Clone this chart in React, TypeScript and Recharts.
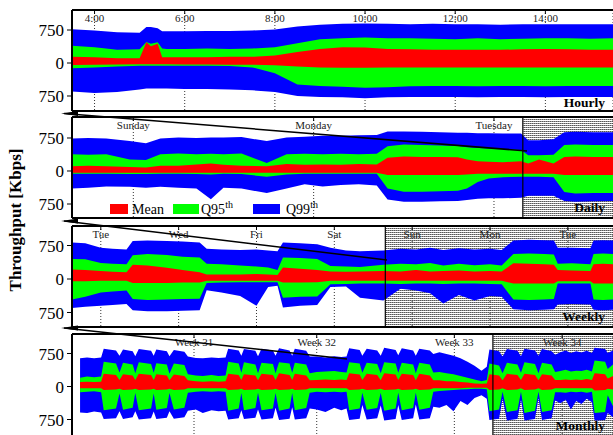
import React from 'react';
import { AreaChart, Area, XAxis, YAxis, CartesianGrid, ReferenceArea, ReferenceLine } from 'recharts';

const FONT = '"Liberation Serif", "Times New Roman", Times, serif';
const BLUE = '#0000ff';
const GREEN = '#00ff00';
const RED = '#ff0000';

// ---------- Hourly panel (x = hour of day) ----------
const hourX = [3.5, 4.0, 4.5, 5.0, 5.15, 5.25, 5.4, 5.5, 5.6, 6.0, 6.5, 7.0, 7.5, 8.0, 8.5, 9.0, 9.5, 10.0, 10.5, 11.0, 11.5, 12.0, 12.5, 13.0, 13.5, 14.0, 14.5, 15.0, 15.5];
const hourQ99Hi = [770, 740, 700, 690, 820, 820, 790, 720, 720, 720, 730, 730, 740, 760, 830, 870, 890, 900, 890, 880, 890, 880, 880, 870, 880, 880, 880, 880, 880];
const hourQ95Hi = [390, 360, 300, 310, 480, 440, 470, 330, 320, 320, 330, 320, 330, 360, 450, 540, 560, 580, 560, 560, 550, 540, 560, 540, 550, 560, 560, 550, 560];
const hourMeanHi = [140, 130, 110, 110, 470, 380, 440, 130, 130, 130, 130, 140, 140, 170, 250, 320, 360, 350, 320, 310, 300, 300, 300, 300, 310, 320, 310, 300, 300];
const hourMeanLo = [-45, -40, -35, -30, -30, -30, -30, -30, -30, -35, -35, -40, -40, -50, -80, -100, -110, -110, -100, -100, -100, -100, -100, -100, -100, -100, -100, -100, -100];
const hourQ95Lo = [-120, -100, -80, -60, -60, -60, -60, -60, -60, -60, -60, -70, -100, -230, -490, -520, -540, -560, -550, -530, -520, -520, -530, -520, -520, -530, -520, -520, -520];
const hourQ99Lo = [-650, -680, -660, -600, -580, -580, -580, -580, -580, -590, -590, -600, -620, -660, -750, -770, -780, -800, -780, -770, -770, -770, -780, -770, -770, -780, -770, -770, -770];
const hourTicks = [4, 6, 8, 10, 12, 14];
const hourTickLabels = ['4:00', '6:00', '8:00', '10:00', '12:00', '14:00'];

// ---------- Daily panel (x = day, Sunday = 1) ----------
const dayX = [0.66, 0.75, 0.85, 0.98, 1.07, 1.15, 1.25, 1.35, 1.43, 1.5, 1.6, 1.74, 1.85, 1.95, 2.05, 2.15, 2.25, 2.35, 2.41, 2.5, 2.6, 2.7, 2.8, 2.85, 2.91, 2.97, 3.05, 3.15, 3.19, 3.25, 3.33, 3.39, 3.45, 3.55, 3.66];
const dayQ99Hi = [740, 750, 740, 680, 630, 740, 760, 750, 760, 760, 770, 680, 760, 780, 800, 800, 810, 820, 900, 900, 890, 880, 870, 870, 860, 860, 850, 850, 700, 700, 720, 880, 890, 880, 880];
const dayQ95Hi = [380, 370, 380, 260, 250, 380, 400, 380, 390, 380, 400, 180, 380, 390, 380, 390, 380, 390, 560, 600, 590, 580, 570, 540, 520, 510, 500, 480, 360, 360, 370, 590, 600, 590, 590];
const dayMeanHi = [110, 120, 110, 90, 80, 120, 120, 150, 170, 140, 120, 110, 160, 140, 150, 140, 160, 150, 300, 330, 320, 320, 310, 260, 220, 210, 200, 220, 170, 260, 170, 320, 330, 320, 320];
const dayMeanLo = [-40, -40, -40, -40, -40, -40, -40, -40, -40, -40, -40, -40, -40, -40, -40, -40, -40, -40, -90, -90, -90, -90, -90, -80, -60, -60, -60, -60, -60, -60, -60, -90, -90, -90, -90];
const dayQ95Lo = [-60, -60, -60, -70, -70, -60, -60, -70, -80, -60, -70, -130, -80, -60, -60, -60, -60, -60, -400, -470, -470, -460, -450, -400, -250, -170, -140, -130, -130, -130, -140, -480, -510, -500, -500];
const dayQ99Lo = [-400, -380, -350, -360, -380, -360, -380, -400, -640, -380, -400, -500, -400, -300, -350, -320, -300, -330, -650, -700, -700, -690, -680, -660, -630, -620, -620, -610, -560, -560, -560, -680, -700, -690, -680];
const dayTicks = [1, 2, 3];
const dayTickLabels = ['Sunday', 'Monday', 'Tuesday'];

// ---------- Weekly panel (x = day index) ----------
const weekX = [-0.37, -0.2, 0.0, 0.15, 0.33, 0.41, 0.6, 0.85, 1.05, 1.27, 1.36, 1.55, 1.79, 2.0, 2.15, 2.27, 2.34, 2.56, 2.78, 2.95, 3.15, 3.33, 3.63, 3.85, 4.05, 4.23, 4.4, 4.6, 4.8, 5.0, 5.15, 5.3, 5.5, 5.7, 5.82, 5.87, 6.05, 6.29, 6.33, 6.45, 6.58];
const weekQ99Hi = [820, 800, 700, 680, 660, 850, 860, 850, 840, 820, 680, 660, 650, 660, 640, 620, 820, 800, 780, 700, 640, 620, 640, 680, 660, 700, 650, 690, 660, 680, 650, 860, 880, 870, 860, 700, 700, 690, 860, 870, 860];
const weekQ95Hi = [450, 440, 360, 340, 330, 530, 560, 540, 500, 480, 340, 330, 300, 280, 260, 200, 480, 470, 450, 290, 280, 270, 320, 340, 330, 360, 300, 340, 310, 330, 300, 560, 570, 560, 550, 340, 350, 330, 560, 570, 560];
const weekMeanHi = [210, 200, 180, 160, 150, 320, 300, 250, 200, 150, 100, 100, 100, 110, 100, 90, 260, 230, 200, 170, 160, 170, 180, 170, 200, 170, 180, 190, 170, 180, 170, 350, 340, 330, 320, 200, 190, 180, 330, 340, 330];
const weekMeanLo = [-50, -50, -40, -40, -40, -90, -90, -90, -80, -80, -40, -40, -40, -40, -40, -40, -80, -80, -70, -40, -40, -40, -40, -40, -40, -40, -40, -40, -40, -40, -40, -100, -100, -100, -100, -50, -50, -50, -100, -100, -100];
const weekQ95Lo = [-460, -400, -300, -280, -260, -450, -470, -460, -450, -440, -90, -80, -70, -70, -70, -70, -420, -400, -390, -120, -110, -100, -100, -110, -100, -100, -110, -100, -100, -110, -120, -460, -470, -460, -450, -100, -100, -100, -460, -470, -460];
const weekQ99Lo = [-650, -620, -600, -580, -560, -700, -720, -720, -710, -700, -250, -300, -380, -600, -180, -150, -640, -600, -580, -180, -170, -420, -480, -220, -260, -320, -550, -360, -480, -380, -400, -680, -700, -690, -680, -570, -560, -570, -690, -700, -690];
const weekTicks = [0, 1, 2, 3, 4, 5, 6];
const weekTickLabels = ['Tue', 'Wed', 'Fri', 'Sat', 'Sun', 'Mon', 'Tue'];

// ---------- Monthly panel (x = day index) ----------
const monthX = [
  0, 0.4, 0.8, 1.2, 1.35, 2.05, 2.25, 2.45, 3.0, 3.15,
  3.35, 4.05, 4.2, 4.35, 4.95, 5.1, 5.35, 5.95, 6.15, 6.6,
  7.0, 7.5, 7.9, 8.3, 8.45, 9.05, 9.2, 9.35, 10.0, 10.15,
  10.35, 11.0, 11.15, 11.35, 11.95, 12.1, 12.25, 12.9, 13.1, 13.5,
  14.0, 14.5, 14.9, 15.2, 15.35, 15.95, 16.1, 16.35, 16.95, 17.15,
  17.35, 18.0, 18.15, 18.35, 19.0, 19.15, 19.35, 19.95, 20.15, 20.5,
  20.9, 21.3, 21.7, 22.1, 22.5, 22.9, 23.2, 23.35, 23.9, 24.1,
  24.35, 24.95, 25.15, 25.35, 25.95, 26.15, 26.35, 26.9, 27.1, 27.4,
  27.7, 28.0, 28.3, 28.6, 28.9, 29.2, 29.35, 29.95, 30.1, 30.4,
];
const monthQ99Hi = [
  640, 660, 640, 660, 860, 820, 700, 840, 800, 690,
  850, 810, 700, 840, 800, 690, 830, 790, 680, 650,
  640, 660, 650, 660, 860, 820, 700, 850, 810, 690,
  860, 820, 700, 870, 820, 700, 860, 810, 680, 680,
  660, 690, 670, 680, 870, 830, 700, 860, 820, 700,
  880, 830, 710, 870, 820, 700, 860, 820, 740, 780,
  740, 700, 640, 560, 470, 360, 450, 840, 800, 680,
  850, 810, 690, 860, 820, 700, 850, 800, 720, 780,
  820, 760, 800, 770, 810, 760, 880, 850, 760, 820,
];
const monthQ95Hi = [
  200, 230, 210, 230, 560, 520, 320, 540, 500, 300,
  550, 510, 310, 530, 500, 290, 520, 490, 280, 250,
  240, 260, 240, 250, 560, 520, 310, 550, 500, 300,
  540, 510, 300, 550, 520, 310, 540, 500, 300, 330,
  340, 350, 330, 320, 550, 520, 310, 540, 510, 300,
  550, 520, 310, 540, 500, 300, 540, 500, 320, 330,
  300, 280, 240, 200, 160, 120, 150, 520, 480, 300,
  540, 500, 310, 550, 510, 300, 540, 500, 330, 350,
  380, 340, 360, 350, 380, 340, 590, 560, 400, 500,
];
const monthMeanHi = [
  100, 110, 100, 110, 290, 260, 150, 280, 250, 150,
  290, 260, 150, 280, 250, 140, 270, 240, 140, 120,
  110, 120, 110, 120, 290, 260, 150, 280, 250, 140,
  290, 260, 150, 300, 260, 150, 290, 250, 140, 150,
  160, 150, 160, 150, 300, 270, 150, 290, 260, 140,
  300, 270, 150, 290, 260, 140, 290, 250, 140, 140,
  120, 120, 100, 90, 70, 60, 70, 280, 250, 140,
  290, 260, 150, 290, 260, 140, 280, 250, 150, 150,
  160, 150, 160, 150, 170, 150, 300, 280, 180, 240,
];
const monthMeanLo = [
  -40, -40, -40, -40, -80, -70, -50, -80, -70, -50,
  -80, -70, -50, -80, -70, -50, -80, -70, -40, -40,
  -40, -40, -40, -40, -80, -70, -50, -80, -70, -50,
  -80, -70, -50, -80, -70, -50, -80, -70, -40, -40,
  -40, -40, -40, -40, -80, -70, -50, -80, -70, -50,
  -80, -70, -50, -80, -70, -50, -80, -70, -40, -40,
  -40, -40, -40, -30, -30, -30, -30, -80, -70, -40,
  -80, -70, -40, -80, -70, -40, -80, -70, -40, -40,
  -40, -40, -40, -40, -40, -40, -90, -80, -50, -70,
];
const monthQ95Lo = [
  -130, -120, -110, -130, -540, -500, -160, -530, -480, -150,
  -540, -500, -160, -530, -490, -150, -520, -480, -140, -120,
  -110, -120, -110, -120, -550, -500, -150, -540, -490, -140,
  -540, -500, -150, -550, -500, -150, -540, -490, -140, -120,
  -130, -120, -130, -120, -540, -500, -140, -530, -490, -140,
  -550, -500, -140, -540, -490, -140, -530, -480, -120, -100,
  -90, -80, -70, -60, -50, -50, -60, -560, -520, -120,
  -580, -540, -120, -600, -550, -120, -580, -540, -130, -130,
  -140, -120, -130, -120, -140, -120, -600, -580, -200, -450,
];
const monthQ99Lo = [
  -590, -600, -570, -590, -740, -720, -560, -740, -700, -560,
  -750, -720, -570, -740, -710, -560, -730, -700, -550, -520,
  -600, -540, -560, -550, -750, -720, -540, -740, -710, -520,
  -750, -720, -480, -760, -730, -470, -750, -720, -500, -520,
  -580, -480, -540, -500, -760, -730, -420, -750, -720, -430,
  -770, -740, -420, -760, -720, -410, -750, -720, -460, -480,
  -420, -560, -330, -420, -260, -200, -280, -760, -730, -280,
  -770, -740, -300, -770, -740, -260, -760, -720, -320, -380,
  -300, -520, -330, -400, -280, -360, -770, -760, -600, -700,
];
const monthTicks = [6.5, 13.5, 21.35, 27.5];
const monthTickLabels = ['Week 31', 'Week 32', 'Week 33', 'Week 34'];

const yTicks = [-750, 0, 750];
const legendLabels = ['Mean', 'Q95', 'Q99'];
const panelTitles = ['Hourly', 'Daily', 'Weekly', 'Monthly'];
const yLabel = 'Throughput [Kbps]';

function buildRows(xs: number[], q99hi: number[], q95hi: number[], mhi: number[], mlo: number[], q95lo: number[], q99lo: number[]) {
  return xs.map((x, i) => ({
    x,
    q99: [q99lo[i], q99hi[i]],
    q95: [q95lo[i], q95hi[i]],
    mean: [mlo[i], mhi[i]],
  }));
}

type PanelProps = {
  top: number;
  bottom: number;
  yMin: number;
  yMax: number;
  xDomain: [number, number];
  ticks: number[];
  tickLabels: string[];
  rows: any[];
  shadeFrom?: number;
};

function Panel({ top, bottom, yMin, yMax, xDomain, ticks, tickLabels, rows, shadeFrom }: PanelProps) {
  const h = bottom - top + 4;
  const renderTick = (p: any) => {
    const v = p.payload ? p.payload.value : null;
    let idx = -1;
    ticks.forEach((t, i) => {
      if (v != null && Math.abs(t - v) < 1e-6) idx = i;
    });
    const label = idx >= 0 ? tickLabels[idx] : '';
    return (
      <g>
        <line x1={p.x} x2={p.x} y1={2} y2={6} stroke="#000" strokeWidth={1} />
        <text x={p.x} y={14} textAnchor="middle" fontFamily={FONT} fontSize={11} fill="#222">
          {label}
        </text>
      </g>
    );
  };
  return (
    <>
      {shadeFrom != null && (
        <div style={{ position: 'absolute', left: 0, top: top - 2, width: 613, height: h }}>
          <AreaChart width={613} height={h} data={rows} margin={{ top: 2, right: 0, bottom: 2, left: 72 }}>
            <XAxis dataKey="x" type="number" domain={xDomain} allowDataOverflow hide />
            <YAxis type="number" domain={[yMin, yMax]} allowDataOverflow hide />
            <ReferenceArea x1={shadeFrom} x2={xDomain[1]} y1={yMin} y2={yMax} fill="url(#shade)" fillOpacity={1} stroke="none" />
          </AreaChart>
        </div>
      )}
      <div style={{ position: 'absolute', left: 0, top: top - 2, width: 613, height: h }}>
        <AreaChart width={613} height={h} data={rows} margin={{ top: 1, right: 0, bottom: 2, left: 0 }}>
          <CartesianGrid horizontal={false} vertical stroke="#333" strokeDasharray="1 2" />
          <XAxis
            dataKey="x"
            type="number"
            domain={xDomain}
            ticks={ticks}
            interval={0}
            orientation="top"
            height={1}
            allowDataOverflow
            axisLine={{ stroke: '#000', strokeWidth: 2 }}
            tickLine={false}
            tick={renderTick}
          />
          <YAxis
            type="number"
            domain={[yMin, yMax]}
            ticks={yTicks}
            interval={0}
            width={72}
            allowDataOverflow
            tickFormatter={(v: number) => String(Math.abs(v))}
            axisLine={{ stroke: '#000', strokeWidth: 2 }}
            tickLine={{ stroke: '#000' }}
            tickSize={5}
            tickMargin={3}
            tick={{ fill: '#000', fontSize: 17, fontFamily: FONT }}
          />
          <Area type="linear" dataKey="q99" stroke="none" fill={BLUE} fillOpacity={1} isAnimationActive={false} dot={false} activeDot={false} />
          <Area type="linear" dataKey="q95" stroke="none" fill={GREEN} fillOpacity={1} isAnimationActive={false} dot={false} activeDot={false} />
          <Area type="linear" dataKey="mean" stroke="none" fill={RED} fillOpacity={1} isAnimationActive={false} dot={false} activeDot={false} />
          {shadeFrom != null && <ReferenceLine x={shadeFrom} stroke="#000" strokeWidth={1.2} />}
          <ReferenceLine y={yMin} stroke="#000" strokeWidth={2} />
        </AreaChart>
      </div>
    </>
  );
}

export default function App() {
  const hourRows = buildRows(hourX, hourQ99Hi, hourQ95Hi, hourMeanHi, hourMeanLo, hourQ95Lo, hourQ99Lo);
  const dayRows = buildRows(dayX, dayQ99Hi, dayQ95Hi, dayMeanHi, dayMeanLo, dayQ95Lo, dayQ99Lo);
  const weekRows = buildRows(weekX, weekQ99Hi, weekQ95Hi, weekMeanHi, weekMeanLo, weekQ95Lo, weekQ99Lo);
  const monthRows = buildRows(monthX, monthQ99Hi, monthQ95Hi, monthMeanHi, monthMeanLo, monthQ95Lo, monthQ99Lo);

  return (
    <div style={{ position: 'fixed', left: 0, top: 0, width: 613, height: 435, background: '#fff', overflow: 'hidden' }}>
      <svg width={0} height={0} style={{ position: 'absolute' }}>
        <defs>
          <pattern id="shade" width={2} height={2} patternUnits="userSpaceOnUse">
            <rect x={0} y={0} width={2} height={2} fill="#ffffff" />
            <rect x={0} y={0} width={1} height={1} fill="#555555" />
            <rect x={1} y={0} width={1} height={1} fill="#9a9a9a" />
          </pattern>
        </defs>
      </svg>

      <Panel top={10} bottom={111} yMin={-1091} yMax={1205} xDomain={[3.5, 15.5]} ticks={hourTicks} tickLabels={hourTickLabels} rows={hourRows} />
      <Panel top={117} bottom={218} yMin={-1068} yMax={1227} xDomain={[0.66, 3.66]} ticks={dayTicks} tickLabels={dayTickLabels} rows={dayRows} shadeFrom={3.16} />
      <Panel top={226} bottom={327} yMin={-1075} yMax={1187} xDomain={[-0.37, 6.58]} ticks={weekTicks} tickLabels={weekTickLabels} rows={weekRows} shadeFrom={3.655} />
      <Panel top={334} bottom={438} yMin={-1170} yMax={1193} xDomain={[-0.46, 30.4]} ticks={monthTicks} tickLabels={monthTickLabels} rows={monthRows} shadeFrom={23.55} />

      <svg width={613} height={435} style={{ position: 'absolute', left: 0, top: 0, pointerEvents: 'none' }}>
        <line x1={64} y1={113.5} x2={527} y2={151} stroke="#000" strokeWidth={1.5} />
        <polygon points="61,113.5 78,111 78,116" fill="#000" />
        <line x1={64} y1={221} x2={387} y2={260} stroke="#000" strokeWidth={1.5} />
        <polygon points="61,221 78,218.5 78,223.5" fill="#000" />
        <line x1={64} y1={328} x2={347} y2={359} stroke="#000" strokeWidth={1.5} />
        <polygon points="61,328 78,325.5 78,330.5" fill="#000" />

        <text x={605} y={107} textAnchor="end" fontFamily={FONT} fontWeight="bold" fontSize={13.5} fill="#000">{panelTitles[0]}</text>
        <text x={605} y={212} textAnchor="end" fontFamily={FONT} fontWeight="bold" fontSize={13.5} fill="#000">{panelTitles[1]}</text>
        <text x={605} y={321} textAnchor="end" fontFamily={FONT} fontWeight="bold" fontSize={13.5} fill="#000">{panelTitles[2]}</text>
        <text x={605} y={430} textAnchor="end" fontFamily={FONT} fontWeight="bold" fontSize={13.5} fill="#000">{panelTitles[3]}</text>

        <rect x={110} y={204} width={18} height={10} fill={RED} />
        <text x={132} y={213.5} fontFamily={FONT} fontSize={14} fill="#000">{legendLabels[0]}</text>
        <rect x={173} y={204} width={26} height={10} fill={GREEN} />
        <text x={201} y={213.5} fontFamily={FONT} fontSize={14} fill="#000">
          {legendLabels[1]}
          <tspan fontSize={10} dy={-6}>th</tspan>
        </text>
        <rect x={253} y={204} width={27} height={10} fill={BLUE} />
        <text x={286} y={213.5} fontFamily={FONT} fontSize={14} fill="#000">
          {legendLabels[2]}
          <tspan fontSize={10} dy={-6}>th</tspan>
        </text>

        <text x={21} y={220} transform="rotate(-90 21 220)" textAnchor="middle" fontFamily={FONT} fontWeight="bold" fontSize={17} fill="#000">
          {yLabel}
        </text>
      </svg>
    </div>
  );
}
